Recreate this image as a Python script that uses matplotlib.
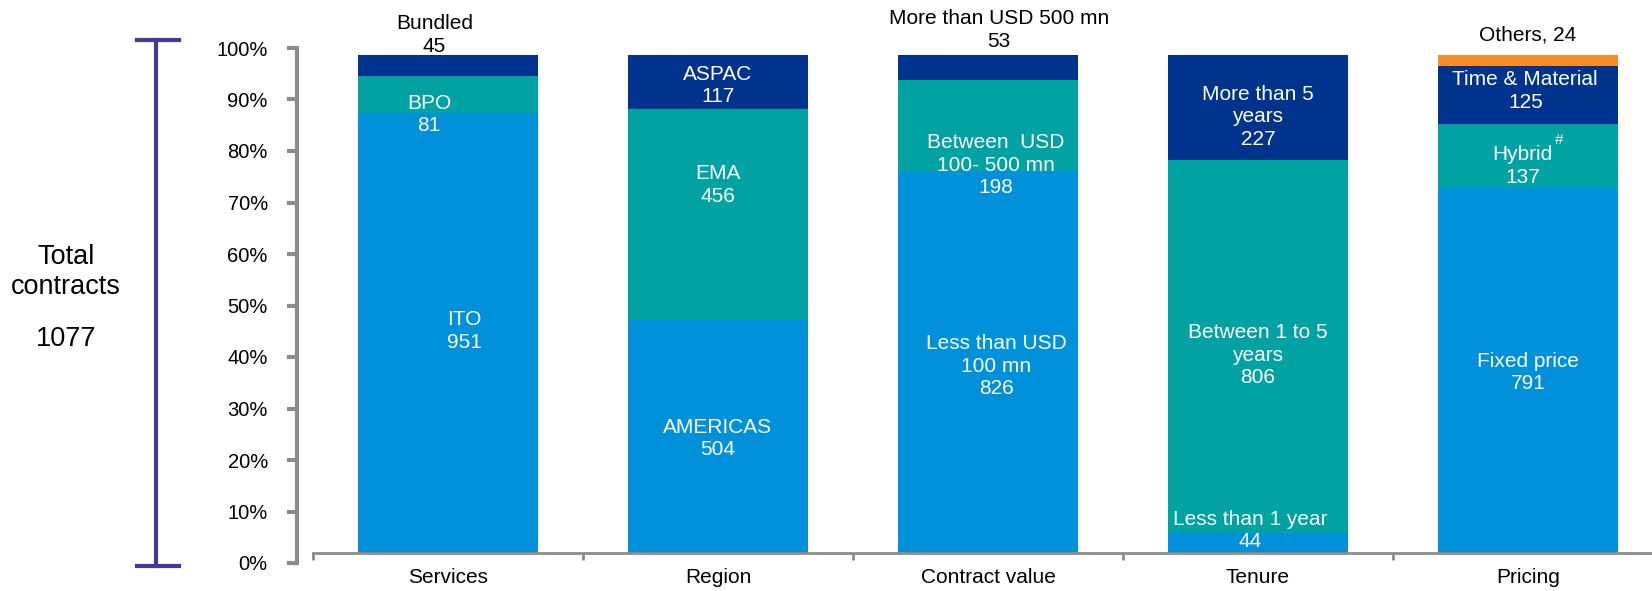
import matplotlib
matplotlib.use("Agg")
import matplotlib.pyplot as plt
from matplotlib.lines import Line2D
import numpy as np

plt.rcParams['font.family'] = ['Liberation Sans', 'DejaVu Sans']

# ---- data ----
categories = ["Services", "Region", "Contract value", "Tenure", "Pricing"]
seg_bottom = [951, 504, 826, 44, 791]   # ITO, AMERICAS, <USD100mn, <1yr, Fixed price
seg_middle = [81, 456, 198, 806, 137]   # BPO, EMA, 100-500mn, 1-5yrs, Hybrid
seg_upper = [45, 117, 53, 227, 125]     # Bundled, ASPAC, >500mn, >5yrs, T&M
seg_top = [0, 0, 0, 0, 24]              # Others
total_contracts = 1077
pct_ticks = [0, 10, 20, 30, 40, 50, 60, 70, 80, 90, 100]

colors = ["#0091DA", "#00A3A1", "#00338D", "#F68D2E"]

# segment labels: (category index, x offset, y in counts, text, color)
labels = [
    (0, -0.05, 1120, "Bundled\n45", "black"),
    (0, -0.07, 948, "BPO\n81", "white"),
    (0, 0.06, 480, "ITO\n951", "white"),
    (1, 0.0, 1011, "ASPAC\n117", "white"),
    (1, 0.0, 796, "EMA\n456", "white"),
    (1, 0.0, 247, "AMERICAS\n504", "white"),
    (2, 0.04, 1131, "More than USD 500 mn\n53", "black"),
    (2, 0.03, 839, "Between  USD\n100- 500 mn\n198", "white"),
    (2, 0.03, 404, "Less than USD\n100 mn\n826", "white"),
    (3, 0.0, 943, "More than 5\nyears\n227", "white"),
    (3, 0.0, 428, "Between 1 to 5\nyears\n806", "white"),
    (3, -0.03, 48, "Less than 1 year\n44", "white"),
    (4, 0.0, 1120, "Others, 24", "black"),
    (4, -0.01, 999, "Time & Material\n125", "white"),
    (4, -0.02, 837, "Hybrid\n137", "white"),
    (4, 0.115, 893, "#", "white"),
    (4, 0.0, 391, "Fixed price\n791", "white"),
]

W, H = 1652, 591
fig = plt.figure(figsize=(W / 100, H / 100), dpi=100)

# main bar axes (pixel layout)
left_px, right_px, bot_px, top_px = 313, 1663, 553, 55
ax = fig.add_axes([left_px / W, (H - bot_px) / H, (right_px - left_px) / W, (bot_px - top_px) / H])
x = np.arange(len(categories))
bw = 180 / 270
b = np.zeros(len(categories))
for vals, c in zip([seg_bottom, seg_middle, seg_upper, seg_top], colors):
    v = np.array(vals, dtype=float)
    ax.bar(x, v, bw, bottom=b, color=c, linewidth=0, zorder=2)
    b += v
ax.set_xlim(-0.5, len(categories) - 0.5)
ax.set_ylim(0, total_contracts)
for s in ["top", "right", "left"]:
    ax.spines[s].set_visible(False)
ax.spines["bottom"].set_color("#8c8c8c")
ax.spines["bottom"].set_linewidth(2)
ax.set_yticks([])
ax.set_xticks(x)
ax.set_xticklabels(categories, fontsize=15)
ax.tick_params(axis="x", which="major", length=0, pad=11)
ax.set_xticks(np.arange(len(categories) + 1) - 0.5, minor=True)
ax.tick_params(axis="x", which="minor", length=5, width=2, color="#8c8c8c", direction="out")

for ci, dx, yv, txt, col in labels:
    fs = 11 if txt == "#" else 15
    ax.text(ci + dx, yv, txt, ha="center", va="center", fontsize=fs, color=col,
            linespacing=1.22, clip_on=False, zorder=3)

# separate percentage axis
ax2 = fig.add_axes([297 / W, (H - 563) / H, 0.001, (563 - 48) / H])
ax2.set_ylim(0, 100)
ax2.set_xticks([])
for s in ["top", "right", "bottom"]:
    ax2.spines[s].set_visible(False)
ax2.patch.set_visible(False)
ax2.spines["left"].set_color("#8c8c8c")
ax2.spines["left"].set_linewidth(3)
ax2.set_yticks(pct_ticks)
ax2.set_yticklabels([f"{t}%" for t in pct_ticks], fontsize=14.5)
ax2.tick_params(axis="y", length=7, width=3, color="#8c8c8c", pad=14)

# bracket
bc = "#483698"
xb, y0, y1 = 156 / W, 1 - 40 / H, 1 - 566 / H
fig.add_artist(Line2D([xb, xb], [y0, y1], color=bc, lw=3, transform=fig.transFigure))
for yy in (y0, y1):
    fig.add_artist(Line2D([137 / W, 179 / W], [yy, yy], color=bc, lw=3, transform=fig.transFigure))
fig.text(66 / W, 1 - 272 / H, "Total\ncontracts", ha="center", va="center", fontsize=19.5, linespacing=1.15)
fig.text(66 / W, 1 - 339 / H, str(total_contracts), ha="center", va="center", fontsize=19.5)

fig.savefig("out.png", dpi=100)
